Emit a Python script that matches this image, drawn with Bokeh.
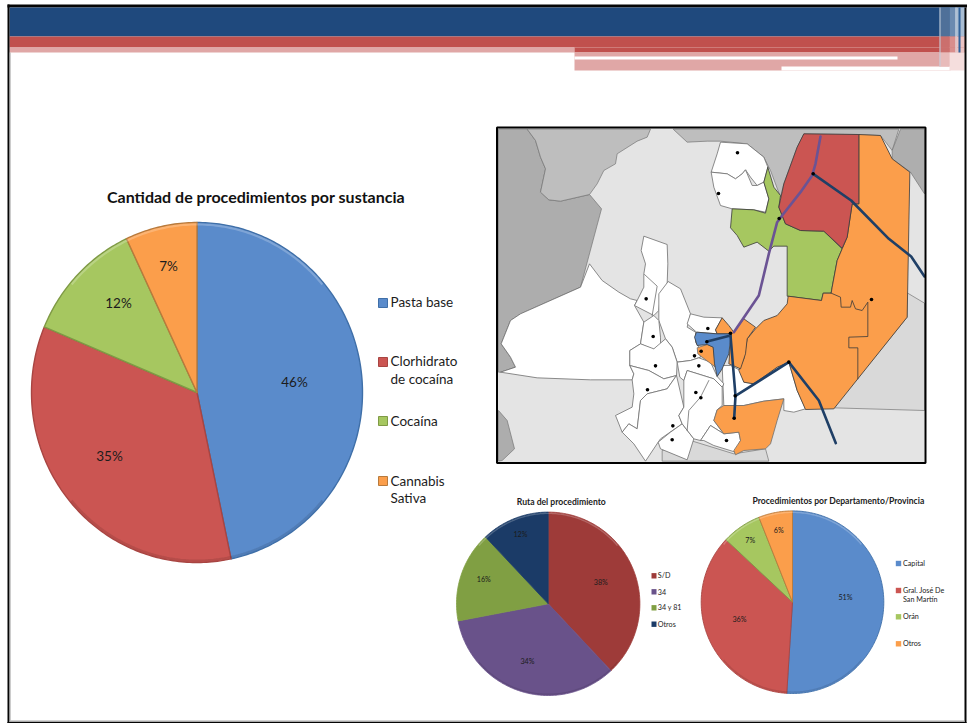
import math
from bokeh.plotting import figure
from bokeh.models import Range1d
from bokeh.core.properties import value
from bokeh.embed import file_html
from bokeh.resources import INLINE

# ---------- chart data ----------
main_title = "Cantidad de procedimientos por sustancia"
main_cats = ["Pasta base", "Clorhidrato\nde cocaína", "Cocaína", "Cannabis\nSativa"]
main_vals = [46.7, 34.6, 11.7, 7.0]
main_labels = ["46%", "35%", "12%", "7%"]
main_cols = ["#5A8BCB", "#CB5552", "#A6C760", "#FB9E4B"]
main_edge = ["#3F6FA8", "#A84542", "#7F9A45", "#B87A3C"]

ruta_title = "Ruta del procedimiento"
ruta_cats = ["S/D", "34", "34 y 81", "Otros"]
ruta_vals = [38, 34, 16, 12]
ruta_labels = ["38%", "34%", "16%", "12%"]
ruta_cols = ["#9E3B39", "#69528A", "#809F43", "#1B3B67"]

depto_title = "Procedimientos por Departamento/Provincia"
depto_cats = ["Capital", "Gral. José De\nSan Martín", "Orán", "Otros"]
depto_vals = [51, 36, 7, 6]
depto_labels = ["51%", "36%", "7%", "6%"]
depto_cols = main_cols

# ---------- map outlines ----------
dark_left = [(24,26),(110,26),(135,60),(150,110),(165,145),(150,215),(175,238),(210,242),(297,222),(333,265),(270,500),(90,580),(60,600),(32,670),(60,710),(75,740),(30,755),(24,755)]
dark_low_left = [(24,870),(50,900),(72,985),(35,1020),(24,1022)]
mid_top_left = [(110,26),(480,26),(470,50),(440,62),(380,100),(375,130),(340,150),(320,190),(297,222),(210,242),(175,238),(150,215),(165,145),(150,110),(135,60)]
mid_top = [(548,26),(1225,26),(1205,90),(1170,45),(1100,42),(940,40),(920,80),(880,190),(870,230),(840,150),(820,110),(770,70),(690,62),(650,62),(590,65)]
dark_right = [(1230,26),(1302,26),(1302,220),(1260,155),(1205,115),(1205,90)]
light_right = [(1250,517),(1302,548),(1302,870),(1030,862),(1250,590)]
light_bottom = [(515,990),(600,960),(730,1000),(825,985),(835,1022),(515,1022)]
gray_regions = [(dark_left,"#ADADAD"),(dark_low_left,"#ADADAD"),(mid_top_left,"#BEBEBE"),(mid_top,"#BEBEBE"),(dark_right,"#AEAEAE"),(light_right,"#D9D9D9"),(light_bottom,"#D9D9D9")]

white_depts = [
 [(297,430),(335,480),(385,515),(420,535),(440,540),(432,555),(460,605),(450,670),(418,690),(418,735),(430,760),(425,778),(300,778),(140,772),(30,755),(75,740),(60,710),(32,670),(60,600),(90,580),(270,500)],
 [(690,65),(770,70),(820,110),(832,140),(820,185),(800,195),(780,170),(765,148),(755,160),(735,175),(710,160),(662,155),(680,100)],
 [(662,155),(710,160),(735,175),(755,160),(765,148),(785,195),(800,195),(820,185),(835,235),(825,275),(790,268),(725,265),(690,255),(670,200)],
 [(695,735),(720,735),(750,750),(760,785),(790,790),(860,740),(895,725),(920,810),(945,865),(910,875),(880,870),(880,835),(820,842),(760,855),(700,855)],
 [(460,347),(530,372),(532,430),(530,490),(510,520),(505,570),(490,585),(432,555),(440,540),(460,500),(460,460),(465,430),(452,390)],
 [(505,520),(533,483),(570,505),(600,580),(590,620),(615,635),(615,665),(625,680),(630,710),(600,720),(560,725),(545,680),(525,655),(505,600)],
 [(460,605),(490,585),(505,600),(510,650),(510,690),(485,685),(450,670)],
 [(450,670),(490,685),(525,655),(545,680),(560,725),(558,765),(520,775),(475,750),(418,735),(418,690)],
 [(418,735),(475,750),(520,775),(558,765),(530,805),(470,820),(450,840),(440,925),(415,910),(395,935),(375,885),(425,860),(430,820),(425,778),(430,760)],
 [(395,935),(415,910),(440,925),(450,840),(470,820),(530,805),(558,765),(580,860),(565,885),(575,910),(510,955),(503,965),(465,1022),(430,970)],
 [(503,965),(540,935),(575,910),(610,955),(590,1018),(510,985)],
 [(560,725),(600,720),(625,712),(660,725),(680,768),(700,790),(695,800),(670,775),(590,750),(580,780),(568,770)],
 [(580,780),(590,750),(670,775),(695,800),(695,855),(680,868),(670,900),(700,940),(660,915),(630,960),(610,955),(575,910),(565,885),(580,860)],
 [(630,960),(660,915),(700,940),(745,935),(750,960),(735,995),(670,975),(640,960)],
 [(600,580),(640,590),(695,592),(675,628),(680,640),(618,635),(590,610)],
]
white_inner = [
 [(462,462),(500,497),(485,585)],
 [(655,780),(630,830),(595,870),(590,930)],
]
green_dept = [(725,265),(790,268),(825,278),(835,235),(820,185),(832,140),(850,200),(870,225),(865,260),(885,310),(930,330),(1000,332),(1055,385),(1040,420),(1025,500),(1022,518),(998,518),(993,540),(890,527),(890,377),(850,377),(835,392),(800,365),(760,380),(740,345),(720,322)]
red_dept = [(940,40),(1105,42),(1105,250),(1085,250),(1070,350),(1055,383),(1000,332),(930,330),(885,310),(865,260),(880,190),(920,80)]
orange_big = [(1105,42),(1170,45),(1205,115),(1258,155),(1250,590),(1030,865),(945,867),(920,810),(895,725),(860,740),(790,790),(760,785),(745,750),(760,715),(770,655),(795,625),(820,600),(860,585),(890,550),(893,527),(993,540),(998,518),(1022,518),(1025,500),(1040,420),(1055,385),(1070,350),(1085,250),(1105,250)]
orange_line = [(1022,518),(1050,530),(1052,560),(1080,560),(1085,540),(1095,565),(1115,570),(1132,545),(1132,648),(1075,650),(1075,682),(1102,682),(1102,775)]
orange_mid = [(695,592),(715,615),(730,635),(760,595),(795,620),(770,655),(765,700),(750,745),(715,730),(722,640),(680,640),(675,628)]
blue_dept = [(618,635),(680,640),(722,640),(715,700),(695,745),(680,768),(672,730),(668,680),(650,672),(620,675),(612,650)]
orange_small = [(620,682),(650,672),(668,680),(675,740),(635,710),(622,700)]
orange_south = [(700,855),(760,855),(820,842),(880,835),(860,900),(840,970),(825,985),(760,990),(735,1003),(730,990),(750,960),(745,935),(700,940),(670,900),(680,868)]

road_purple = [(990,48),(975,130),(965,165),(930,215),(875,285),(860,305),(835,400),(805,525),(730,635)]
roads_navy = [
 [(968,160),(1082,240),(1195,355),(1262,408),(1302,468)],
 [(650,663),(720,645),(735,826),(731,893)],
 [(735,826),(895,725),(985,840),(1036,968)],
]
towns = [(741,97),(684,219),(968,160),(866,294),(1143,537),(467,535),(488,648),(495,736),(471,808),(547,916),(545,958),(612,706),(625,736),(616,816),(631,832),(652,624),(649,664),(632,692),(720,638),(734,826),(731,893),(708,960),(895,725)]

FONT = value("Lato")
TXT = "#1c1c1c"

p = figure(width=967, height=723, x_range=Range1d(0, 967), y_range=Range1d(723, 0),
           output_backend="svg", toolbar_location=None, min_border=0,
           outline_line_color=None, background_fill_color="white")
p.axis.visible = False
p.grid.visible = False


def mx(pts): return [490 + a / 3 for a, b in pts]
def my(pts): return [120 + b / 3 for a, b in pts]


def box(x0, y0, x1, y1, color):
    p.quad(left=x0, right=x1, top=y0, bottom=y1, fill_color=color, line_color=None)


def poly(pts, fill, line="#6f6f6f", w=0.8):
    p.patch(mx(pts), my(pts), fill_color=fill, line_color=line, line_width=w)


def polyline(pts, color, w):
    p.line(mx(pts), my(pts), line_color=color, line_width=w, line_cap="round", line_join="round")


def rim(cx, cy, rx, ry, a, b):
    n = max(2, int(abs(b - a) * 60))
    t = [a + (b - a) * i / n for i in range(n + 1)]
    return [cx + rx * math.sin(u) for u in t], [cy - ry * math.cos(u) for u in t]


def pie(cx, cy, rx, ry, vals, cols, edge, lw):
    # slices start at twelve o'clock and run clockwise; the slide's pie may be slightly stretched
    a = 0.0
    tot = sum(vals)
    for v, c, e in zip(vals, cols, edge):
        b = a + v / tot * 2 * math.pi
        xs, ys = rim(cx, cy, rx, ry, a, b)
        p.patch([cx] + xs, [cy] + ys, fill_color=c, line_color=e, line_width=lw, line_join="round")
        a = b
    xs, ys = rim(cx, cy, rx - lw - 0.5, ry - lw - 0.5, math.radians(-50), math.radians(50))
    p.line(xs, ys, line_color="white", line_alpha=0.22, line_width=1.6 * lw)
    xs, ys = rim(cx, cy, rx - lw - 0.5, ry - lw - 0.5, math.radians(130), math.radians(230))
    p.line(xs, ys, line_color="black", line_alpha=0.10, line_width=1.6 * lw)


def text(x, y, s, size, bold=False, align="left", color=TXT):
    p.text(x=[x], y=[y], text=[s], text_font=FONT, text_font_size=f"{size}px",
           text_font_style="bold" if bold else "normal", text_align=align,
           text_baseline="middle", text_color=color)


# ---------- header band ----------
box(7, 4, 967, 7, "#050505")
box(9, 7, 964, 36, "#1F497D")
box(9, 36, 964, 47, "#C0504D")
box(9, 47, 574, 52, "#E0A7A6")
box(574, 47, 964, 52, "#C0504D")
box(574, 52, 950, 70, "#E0A7A6")
box(574, 56, 897, 59, "#FFFFFF")
box(781, 66, 950, 70, "#FFFFFF")
box(939, 7, 949, 36, "#4F7099"); box(949, 7, 956, 36, "#6B8AB0"); box(956, 7, 964, 36, "#A9BDD3")
box(939, 36, 949, 47, "#CB6F6D"); box(949, 36, 956, 47, "#D98E8C"); box(956, 36, 964, 47, "#EBC3C2")
box(939, 47, 949, 52, "#CB6F6D"); box(949, 47, 956, 52, "#D98E8C"); box(956, 47, 964, 52, "#EBC3C2")
box(939, 52, 949, 66, "#E8BBBA"); box(949, 52, 964, 70, "#F5DEDD")
box(939, 7, 940, 66, "#C4CEDC"); box(955, 7, 956, 52, "#E9EEF3"); box(958, 7, 960, 52, "#31639C")
# slide border
box(7, 4, 9, 723, "#050505")
box(9, 52, 10, 720, "#9A9A9A")
box(964, 7, 966, 723, "#050505")
box(9, 720, 964, 721.5, "#A8A8A8")
box(7, 721.5, 966, 723, "#050505")

# ---------- main pie ----------
pie(196.5, 392, 165.5, 170, main_vals, main_cols, main_edge, 1.4)
text(255.5, 196, main_title, 16, bold=True, align="center", color="#111111")
for (x, y), s in zip([(294, 381), (109, 455), (118, 302), (168, 265)], main_labels):
    text(x, y, s, 13.5, align="center")
for y0, c, e in zip([298, 357, 416, 476], main_cols, main_edge):
    p.quad(left=378, right=387, top=y0, bottom=y0 + 9, fill_color=c, line_color=e, line_width=1)
for ys, s in zip([[301], [360, 378], [420], [480, 497]], main_cats):
    for y, part in zip(ys, s.split("\n")):
        text(390, y, part, 13.5)

# ---------- map ----------
p.quad(left=497, right=924, top=127, bottom=462, fill_color="#E4E4E4", line_color=None)
for pts, c in gray_regions:
    poly(pts, c, "#757575", 0.7)
for pts in white_depts:
    poly(pts, "#FFFFFF")
for pts in white_inner:
    polyline(pts, "#6f6f6f", 0.8)
poly(green_dept, "#A6C760", "#3a3a3a", 0.8)
poly(orange_big, "#FB9E4B", "#3a3a3a", 0.8)
poly(red_dept, "#CB5552", "#3a3a3a", 0.8)
polyline(orange_line, "#3a3a3a", 0.8)
poly(orange_mid, "#FB9E4B", "#3a3a3a", 0.8)
poly(orange_south, "#FB9E4B", "#6f6f6f", 0.8)
poly(orange_small, "#FB9E4B", "#6f6f6f", 0.8)
poly(blue_dept, "#5A8BCB", "#3a3a3a", 0.8)
polyline(road_purple, "#6B5394", 2.6)
for r in roads_navy:
    polyline(r, "#1F3F66", 2.6)
p.scatter(mx(towns), my(towns), size=3.6, marker="circle", fill_color="black", line_color=None)
p.quad(left=496.5, right=925, top=127, bottom=462.5, fill_color=None, line_color="black", line_width=2)

# ---------- lower pies ----------
pie(547.7, 603.3, 91.7, 91.7, ruta_vals, ruta_cols, ruta_cols, 0.8)
text(560.8, 501, ruta_title, 8.6, bold=True, align="center")
for (x, y), s in zip([(600.3, 582), (527, 660.7), (483.3, 579.3), (520, 533.7)], ruta_labels):
    text(x, y, s, 7.2, align="center")
for y, s, c in zip([575.3, 591.3, 607.3, 623.7], ruta_cats, ruta_cols):
    p.quad(left=651, right=656, top=y - 2.7, bottom=y + 2.7, fill_color=c, line_color=None)
    text(657.3, y, s, 7.2)

pie(792, 601.7, 91.3, 91.3, depto_vals, depto_cols, main_edge, 0.9)
text(838, 500, depto_title, 8.6, bold=True, align="center")
for (x, y), s in zip([(845, 597.3), (739, 619.3), (749.7, 540), (778.3, 530)], depto_labels):
    text(x, y, s, 7.2, align="center")
for y, s, c in zip([563, 590, 616.3, 643.3], depto_cats, depto_cols):
    p.quad(left=895.3, right=900.7, top=y - 2.7, bottom=y + 2.7, fill_color=c, line_color=None)
    parts = s.split("\n")
    text(902.5, y, parts[0], 7.2)
    if len(parts) > 1:
        text(902.5, y + 9, parts[1], 7.2)

open("out.html", "w").write(file_html(p, INLINE))
